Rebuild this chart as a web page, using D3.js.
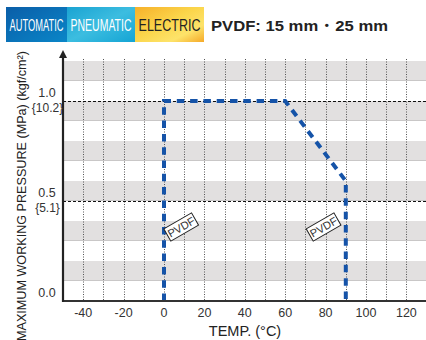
<!DOCTYPE html>
<html><head><meta charset="utf-8">
<script src="https://cdn.jsdelivr.net/npm/d3@7"></script>
<style>
html,body{margin:0;padding:0;background:#fff;}
svg{display:block;font-family:"Liberation Sans",Arial,sans-serif;}
</style></head>
<body>
<script>
// ---- data ----
const badgeNames = ["AUTOMATIC", "PNEUMATIC", "ELECTRIC"];
const titleText = "PVDF: 15 mm\u30FB25 mm";
const tempTicks = [-40, -20, 0, 20, 40, 60, 80, 100, 120];
const gridTemps = [-40, -30, -20, -10, 0, 10, 20, 30, 40, 50, 60, 70, 80, 90, 100, 110, 120];
const pressureTicks = [0.0, 0.5, 1.0];
const pressureTickLabels = ["0.0", "0.5", "1.0"];
const kgfTicks = [0.5, 1.0];
const kgfLabels = ["{5.1}", "{10.2}"];
const bandStarts = [0.1, 0.3, 0.5, 0.7, 0.9, 1.1];
const refLines = [0.5, 1.0];
const curveTemp = [0, 0, 60, 90, 90];
const curvePressure = [0, 1.0, 1.0, 0.6, 0];
const labelTemps = [8.5, 79];
const labelPressures = [0.37, 0.37];
const labelText = "PVDF";
const xTitle = "TEMP. (\u00B0C)";
const yTitle = "MAXIMUM WORKING PRESSURE (MPa) (kgf/cm\u00B2)";

const W = 426, H = 340;
const svg = d3.select("body").append("svg").attr("width", W).attr("height", H);
const defs = svg.append("defs");

const x = d3.scaleLinear().domain([-50, 130]).range([63, 426.6]);
const y = d3.scaleLinear().domain([0, 1.21]).range([301, 59]);

// ---- badges ----
const badgeX = [6, 67, 135, 204];
const grads = [
  [["0%", "#0a5ea8"], ["100%", "#0a86c8"]],
  [["0%", "#1aa3d2"], ["50%", "#3cbde0"], ["100%", "#14a4d4"]],
  [["0%", "#f6b02a"], ["45%", "#fbd54a"], ["75%", "#fde36a"], ["100%", "#f5a928"]]
];
grads.forEach((g, i) => {
  const lg = defs.append("linearGradient").attr("id", "bg" + i)
    .attr("x1", "0").attr("y1", "0").attr("x2", "1").attr("y2", "1");
  g.forEach(s => lg.append("stop").attr("offset", s[0]).attr("stop-color", s[1]));
});
badgeNames.forEach((n, i) => {
  const x0 = badgeX[i], x1 = badgeX[i + 1];
  svg.append("rect").attr("x", x0).attr("y", 7).attr("width", x1 - x0).attr("height", 35)
    .attr("fill", `url(#bg${i})`);
  const g = svg.append("g");
  const t = g.append("text").attr("x", 0).attr("y", 0)
    .attr("text-anchor", "middle").attr("font-size", 17)
    .attr("fill", i === 2 ? "#222" : "#fff").text(n);
  const natural = t.node().getComputedTextLength();
  const target = (x1 - x0) - 7;
  g.attr("transform", `translate(${(x0 + x1) / 2},30.5) scale(${target / natural},1)`);
});
svg.append("text").attr("x", 211).attr("y", 31).attr("font-size", 15.5)
  .attr("font-weight", "bold").attr("fill", "#222")
  .attr("textLength", 177).attr("lengthAdjust", "spacingAndGlyphs")
  .text(titleText);

// ---- bands ----
const plotTop = y(1.21);
bandStarts.forEach(b => {
  const top = Math.min(b + 0.1, 1.21);
  svg.append("rect").attr("x", x(-50)).attr("y", y(top))
    .attr("width", x(130) - x(-50)).attr("height", y(b) - y(top))
    .attr("fill", "#e2e0e0");
  svg.append("line").attr("x1", x(-50)).attr("x2", x(130))
    .attr("y1", y(b) - 0.5).attr("y2", y(b) - 0.5)
    .attr("stroke", "#c9c7c7").attr("stroke-width", 1);
});

// ---- vertical grid ----
svg.append("g").selectAll("line").data(gridTemps).join("line")
  .attr("x1", d => Math.round(x(d)) + 0.5).attr("x2", d => Math.round(x(d)) + 0.5)
  .attr("y1", plotTop).attr("y2", y(0))
  .attr("stroke", "#555").attr("stroke-width", 1).attr("stroke-dasharray", "1,1.5");

// ---- reference dashed lines ----
svg.append("g").selectAll("line").data(refLines).join("line")
  .attr("x1", x(-50)).attr("x2", x(130))
  .attr("y1", d => Math.round(y(d)) + 0.5).attr("y2", d => Math.round(y(d)) + 0.5)
  .attr("stroke", "#111").attr("stroke-width", 1).attr("stroke-dasharray", "3,2");

// ---- curve ----
const pts = curveTemp.map((t, i) => [x(t), y(curvePressure[i])]);
svg.append("path").attr("d", d3.line()(pts))
  .attr("fill", "none").attr("stroke", "#1553a8").attr("stroke-width", 4)
  .attr("stroke-dasharray", "7.5,5.8");

// ---- axes ----
svg.append("line").attr("x1", x(-50)).attr("x2", W).attr("y1", y(0)).attr("y2", y(0))
  .attr("stroke", "#333").attr("stroke-width", 2);
svg.append("line").attr("x1", x(-50)).attr("x2", x(-50)).attr("y1", y(0) + 1).attr("y2", 56)
  .attr("stroke", "#222").attr("stroke-width", 2.2);
svg.append("path").attr("d", `M${x(-50)},50 L${x(-50) - 4},58 L${x(-50) + 4},58 Z`).attr("fill", "#222");

// ---- PVDF labels ----
labelTemps.forEach((t, i) => {
  const g = svg.append("g").attr("transform", `translate(${x(t)},${y(labelPressures[i])}) rotate(-30)`);
  g.append("rect").attr("x", -16).attr("y", -7).attr("width", 32).attr("height", 14)
    .attr("fill", "#fff").attr("stroke", "#222").attr("stroke-width", 1);
  g.append("text").attr("x", 0).attr("y", 4).attr("text-anchor", "middle")
    .attr("font-size", 11).attr("fill", "#333").text(labelText);
});

// ---- tick labels ----
svg.append("g").selectAll("text").data(tempTicks).join("text")
  .attr("x", d => x(d)).attr("y", 317).attr("text-anchor", "middle")
  .attr("font-size", 12.5).attr("fill", "#333").text(d => d);
svg.append("g").selectAll("text").data(pressureTicks).join("text")
  .attr("x", 47).attr("y", d => y(d) - 4).attr("text-anchor", "middle")
  .attr("font-size", 12.5).attr("fill", "#333").text((d, i) => pressureTickLabels[i]);
svg.append("g").selectAll("text").data(kgfTicks).join("text")
  .attr("x", 47.5).attr("y", d => y(d) + 11).attr("text-anchor", "middle")
  .attr("font-size", 12).attr("fill", "#333").text((d, i) => kgfLabels[i]);

// ---- axis titles ----
svg.append("text").attr("x", 245).attr("y", 336).attr("text-anchor", "middle")
  .attr("font-size", 14.5).attr("fill", "#222").text(xTitle);
svg.append("text").attr("transform", "translate(26,51) rotate(-90)")
  .attr("text-anchor", "end").attr("font-size", 13.5).attr("fill", "#222")
  .attr("textLength", 290).attr("lengthAdjust", "spacingAndGlyphs").text(yTitle);
</script>
</body></html>
